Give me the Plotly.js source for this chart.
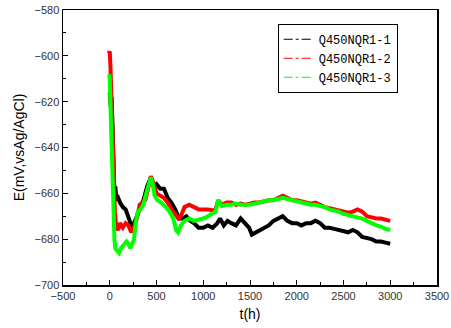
<!DOCTYPE html>
<html><head><meta charset="utf-8">
<script src="https://cdn.plot.ly/plotly-3.0.1.min.js"></script>
<style>html,body{margin:0;padding:0;background:#fff}#chart{width:451px;height:328px}</style>
</head><body><div id="chart"></div>
<script>
const seriesNames = ["Q450NQR1-1", "Q450NQR1-2", "Q450NQR1-3"];
const seriesColors = ["#000000", "#ff0000", "#00ff00"];

const t1 = [0,10,20,30,40,50,60,70,90,110,140,170,200,230,260,290,320,360,400,440,470,500,540,580,620,660,700,740,780,820,860,900,950,1000,1050,1100,1150,1180,1220,1260,1300,1350,1400,1450,1490,1520,1560,1600,1650,1700,1750,1800,1850,1900,1950,2000,2050,2100,2150,2200,2250,2300,2350,2400,2450,2500,2550,2600,2650,2700,2750,2800,2850,2900,2950,3000];
const e1 = [-616,-622,-618,-640,-645,-660,-657,-663,-662,-664,-666,-667,-671,-674,-673,-670,-667,-663,-657,-653,-657,-656,-658,-658,-662,-664,-667,-671,-671,-670,-672,-673,-675,-675,-674,-675,-673,-671,-674,-672,-673,-674,-671,-673,-675,-678,-677,-676,-675,-674,-672,-671,-670,-672,-673,-673,-674,-673,-673,-672,-673,-675,-675,-675.5,-676,-676.5,-677,-676,-677,-679,-679.5,-680,-681,-681,-681.5,-682];

const t2 = [-10,0,8,15,25,35,45,55,70,90,110,140,170,200,230,260,290,320,350,380,410,440,470,500,540,580,620,660,700,740,770,800,850,900,950,1000,1050,1100,1130,1160,1200,1250,1300,1350,1400,1450,1500,1550,1600,1650,1700,1750,1800,1850,1900,1950,2000,2050,2100,2150,2200,2250,2300,2350,2400,2450,2500,2550,2600,2650,2700,2750,2800,2850,2900,2950,3000];
const e2 = [-599,-598,-605,-615,-625,-640,-655,-668,-675,-676,-673,-675,-673,-674,-677,-675,-671,-665,-664,-663,-658,-652.5,-656,-660,-661,-662,-664,-667,-669,-671.5,-669,-666,-665,-666,-667,-667,-667,-667.5,-667,-663,-665,-664,-664,-665,-664.5,-665,-664.5,-664,-664,-663.5,-663,-663,-662,-661,-662,-663,-663,-663.5,-664,-664.5,-664,-665,-666,-666.5,-667,-667.5,-668,-668.5,-668,-667,-668,-670,-670.5,-671,-671,-671.5,-672];

const t3 = [-5,0,5,10,15,20,25,30,35,40,50,60,80,100,120,140,160,180,200,220,240,260,280,300,330,360,390,420,440,460,480,510,550,600,640,680,710,730,760,800,850,900,950,1000,1050,1100,1130,1160,1200,1250,1300,1350,1400,1450,1500,1550,1600,1650,1700,1750,1800,1850,1900,1950,2000,2050,2100,2150,2200,2250,2300,2350,2400,2450,2500,2550,2600,2650,2700,2750,2800,2850,2900,2950,3000];
const e3 = [-608,-610,-618,-625,-630,-640,-650,-658,-665,-672,-680,-684,-685,-686,-684,-683,-682,-681,-682,-684,-682,-680,-672,-668,-667,-665,-660,-655,-653,-656,-661,-663,-664,-666,-668,-671,-676,-677,-674,-672,-671,-672,-671.5,-671,-670,-669,-668,-663,-665.5,-665,-665,-664.5,-665,-665,-665,-664.5,-664,-663.5,-663,-663,-662.5,-662,-662.5,-663,-663.5,-664,-664.5,-665,-665,-665.5,-666,-667,-667.5,-668,-669,-669.5,-670,-670.5,-671,-672,-673,-674,-674.5,-675.5,-676];

const xs = [t1, t2, t3], ys = [e1, e2, e3];
const data = [];
for (let i = 0; i < 3; i++) {
  data.push({x: xs[i], y: ys[i], type: 'scatter', mode: 'lines', showlegend: false,
    line: {color: seriesColors[i], width: 4}, hoverinfo: 'skip'});
}
for (let i = 0; i < 3; i++) {
  data.push({x: [null], y: [null], type: 'scatter', mode: 'lines', name: seriesNames[i],
    line: {color: seriesColors[i], width: 1.2, dash: 'dashdot'}});
}

const axisFont = {family: 'Liberation Sans, Arial, sans-serif', size: 11, color: '#333'};
const layout = {
  width: 451, height: 328,
  margin: {l: 63, r: 14, t: 10, b: 43},
  paper_bgcolor: '#fff', plot_bgcolor: '#fff',
  showlegend: true,
  legend: {x: 0.574, y: 0.95, xanchor: 'left', yanchor: 'top', bgcolor: '#fff',
    bordercolor: '#000', borderwidth: 1,
    font: {family: 'Liberation Mono, DejaVu Sans Mono, monospace', size: 12, color: '#000'},
    tracegroupgap: 0, itemwidth: 30},
  xaxis: {range: [-500, 3500], dtick: 500, tick0: -500, showgrid: false, zeroline: false,
    showline: true, linecolor: '#000', linewidth: 1.5, mirror: true,
    ticks: 'inside', ticklen: 5, tickcolor: '#000', tickfont: axisFont,
    minor: {ticks: 'inside', ticklen: 3, dtick: 250, tickcolor: '#000'},
    title: {text: 't(h)', font: {family: 'Liberation Sans, Arial, sans-serif', size: 14, color: '#000'}, standoff: 8}},
  yaxis: {range: [-700, -580], dtick: 20, showgrid: false, zeroline: false,
    showline: true, linecolor: '#000', linewidth: 1.5, mirror: true,
    ticks: 'inside', ticklen: 5, tickcolor: '#000', tickfont: axisFont,
    minor: {ticks: 'inside', ticklen: 3, dtick: 10, tickcolor: '#000'},
    title: {text: 'E(mV,vsAg/AgCl)', font: {family: 'Liberation Sans, Arial, sans-serif', size: 14, color: '#000'}, standoff: 6}}
};
Plotly.newPlot('chart', data, layout, {staticPlot: true, displayModeBar: false});
</script></body></html>
